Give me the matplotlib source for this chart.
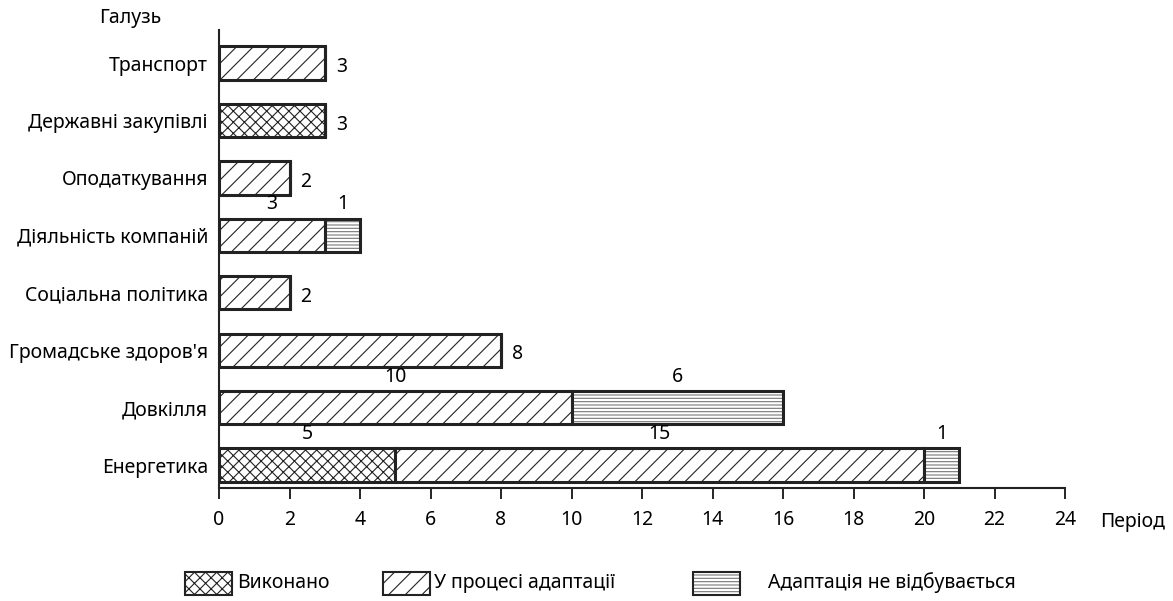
import numpy as np
import matplotlib
matplotlib.use("Agg")
import matplotlib.pyplot as plt
from matplotlib.patches import Rectangle

plt.rcParams['font.family'] = ['Noto Sans', 'DejaVu Sans']
plt.rcParams['hatch.linewidth'] = 0.8

categories = ["Транспорт", "Державні закупівлі", "Оподаткування", "Діяльність компаній",
              "Соціальна політика", "Громадське здоров'я", "Довкілля", "Енергетика"]
done = [0, 3, 0, 0, 0, 0, 0, 5]
in_process = [3, 0, 2, 3, 2, 8, 10, 15]
not_adapting = [0, 0, 0, 1, 0, 0, 6, 1]
series_names = ["Виконано", "У процесі адаптації", "Адаптація не відбувається"]
xticks = list(range(0, 25, 2))

hatches = ['xxx', '//', '-----']
hatch_colors = ['#222222', '#222222', '#777777']

fig = plt.figure(figsize=(11.73, 6.01), dpi=100)
ax = fig.add_axes([219/1173, 1-488/601, (1065-219)/1173, (488-30)/601])

n = len(categories)
ypos = np.arange(n)[::-1]
h = 0.58
series = [done, in_process, not_adapting]
left = np.zeros(n)
for vals, hatch, hc in zip(series, hatches, hatch_colors):
    vals = np.array(vals, dtype=float)
    ax.barh(ypos, vals, left=left, height=h, color='white', edgecolor=hc,
            hatch=hatch, linewidth=0)
    ax.barh(ypos, vals, left=left, height=h, fill=False, edgecolor='#222222',
            linewidth=2.2)
    left = left + vals

# labels
for i in range(n):
    segs = [(s[i]) for s in series]
    nz = [k for k, v in enumerate(segs) if v > 0]
    if len(nz) == 1:
        total = sum(segs)
        ax.annotate(str(total), (total, ypos[i]), xytext=(8, -3), textcoords='offset points',
                    ha='left', va='center', fontsize=14)
    else:
        start = 0
        for k, v in enumerate(segs):
            if v > 0:
                ax.annotate(str(v), (start + v/2, ypos[i] + h/2), xytext=(0, 3),
                            textcoords='offset points', ha='center', va='bottom', fontsize=14)
            start += v

ax.set_xlim(0, 24)
ax.set_ylim(-0.4, 7.575)
ax.set_xticks(xticks)
ax.set_xticklabels([str(t) for t in xticks], fontsize=14)
ax.set_yticks(ypos)
ax.set_yticklabels(categories, fontsize=14)
ax.tick_params(axis='y', length=0, pad=8)
ax.tick_params(axis='x', length=8, width=1.2, direction='out', pad=8)
for s in ['top', 'right']:
    ax.spines[s].set_visible(False)
for s in ['left', 'bottom']:
    ax.spines[s].set_linewidth(1.5)
    ax.spines[s].set_color('#222222')

fig.text(130/1173, 1-18/601, "Галузь", fontsize=14, ha='center', va='center')
fig.text(1100/1173, 1-522/601, "Період", fontsize=14, ha='left', va='center')

# legend
boxes = [185, 383, 693]
texts_x = [237, 434, 768]
for bx, tx, hatch, hc, name in zip(boxes, texts_x, hatches, hatch_colors, series_names):
    r = Rectangle((bx/1173, 1-595/601), 47/1173, 23/601, transform=fig.transFigure,
                  facecolor='white', edgecolor=hc, hatch=hatch, linewidth=0)
    fig.add_artist(r)
    r2 = Rectangle((bx/1173, 1-595/601), 47/1173, 23/601, transform=fig.transFigure,
                   fill=False, edgecolor='#222222', linewidth=1.5)
    fig.add_artist(r2)
    fig.text(tx/1173, 1-583/601, name, fontsize=14, ha='left', va='center')

fig.savefig("out.png", dpi=100)
